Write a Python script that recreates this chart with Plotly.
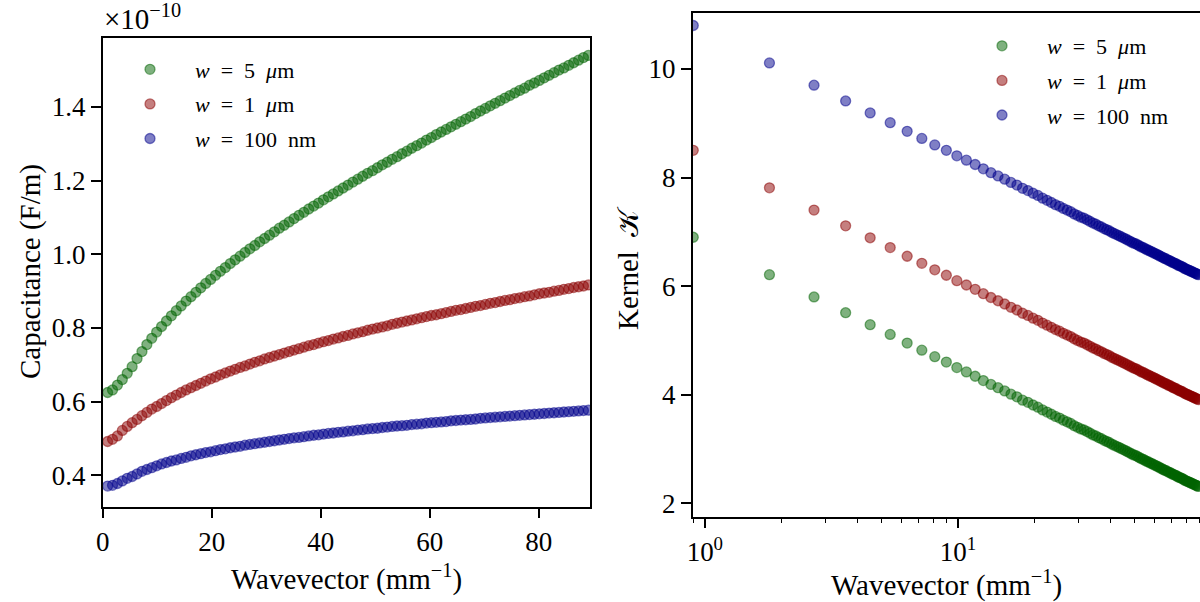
import plotly.graph_objects as go

# ---------------- data ----------------
wavevector = [0.9, 1.8, 2.7, 3.6, 4.5, 5.4, 6.3, 7.2, 8.1, 9.0, 9.9, 10.8, 11.7, 12.6, 13.5, 14.4, 15.3, 16.2, 17.1, 18.0,
              18.9, 19.8, 20.7, 21.6, 22.5, 23.4, 24.3, 25.2, 26.1, 27.0, 27.9, 28.8, 29.7, 30.6, 31.5, 32.4, 33.3, 34.2, 35.1, 36.0,
              36.9, 37.8, 38.7, 39.6, 40.5, 41.4, 42.3, 43.2, 44.1, 45.0, 45.9, 46.8, 47.7, 48.6, 49.5, 50.4, 51.3, 52.2, 53.1, 54.0,
              54.9, 55.8, 56.7, 57.6, 58.5, 59.4, 60.3, 61.2, 62.1, 63.0, 63.9, 64.8, 65.7, 66.6, 67.5, 68.4, 69.3, 70.2, 71.1, 72.0,
              72.9, 73.8, 74.7, 75.6, 76.5, 77.4, 78.3, 79.2, 80.1, 81.0, 81.9, 82.8, 83.7, 84.6, 85.5, 86.4, 87.3, 88.2, 89.1]

# capacitance in units of 1e-10 F/m
cap_5um = [0.625, 0.632, 0.645, 0.660, 0.677, 0.695, 0.717, 0.736, 0.755, 0.772, 0.789, 0.804, 0.819, 0.833, 0.847, 0.860, 0.873, 0.885, 0.897, 0.909,
           0.921, 0.932, 0.943, 0.954, 0.964, 0.975, 0.985, 0.995, 1.005, 1.015, 1.024, 1.034, 1.043, 1.052, 1.061, 1.071, 1.079, 1.088, 1.097, 1.106,
           1.114, 1.123, 1.131, 1.139, 1.148, 1.156, 1.164, 1.172, 1.180, 1.188, 1.196, 1.204, 1.212, 1.220, 1.227, 1.235, 1.243, 1.250, 1.258, 1.265,
           1.273, 1.280, 1.288, 1.295, 1.302, 1.310, 1.317, 1.325, 1.332, 1.339, 1.346, 1.353, 1.360, 1.367, 1.374, 1.382, 1.389, 1.396, 1.403, 1.410,
           1.417, 1.424, 1.431, 1.438, 1.445, 1.451, 1.459, 1.465, 1.472, 1.479, 1.486, 1.493, 1.500, 1.506, 1.513, 1.520, 1.527, 1.534, 1.540]
cap_1um = [0.492, 0.498, 0.507, 0.522, 0.533, 0.543, 0.552, 0.562, 0.571, 0.580, 0.587, 0.595, 0.603, 0.611, 0.618, 0.625, 0.632, 0.638, 0.644, 0.650,
           0.656, 0.662, 0.667, 0.673, 0.678, 0.683, 0.688, 0.693, 0.697, 0.702, 0.707, 0.711, 0.716, 0.720, 0.724, 0.728, 0.732, 0.736, 0.740, 0.744,
           0.748, 0.752, 0.755, 0.759, 0.763, 0.766, 0.770, 0.773, 0.777, 0.780, 0.784, 0.787, 0.790, 0.794, 0.797, 0.800, 0.803, 0.806, 0.810, 0.813,
           0.816, 0.819, 0.822, 0.825, 0.828, 0.831, 0.834, 0.836, 0.839, 0.842, 0.845, 0.848, 0.850, 0.853, 0.856, 0.859, 0.861, 0.864, 0.867, 0.869,
           0.872, 0.875, 0.877, 0.880, 0.882, 0.885, 0.887, 0.890, 0.893, 0.895, 0.897, 0.900, 0.902, 0.905, 0.907, 0.910, 0.912, 0.914, 0.917]
cap_100nm = [0.371, 0.373, 0.378, 0.385, 0.392, 0.397, 0.404, 0.411, 0.416, 0.421, 0.426, 0.431, 0.435, 0.439, 0.442, 0.446, 0.449, 0.453, 0.456, 0.459,
             0.462, 0.464, 0.467, 0.470, 0.472, 0.475, 0.477, 0.479, 0.482, 0.484, 0.486, 0.488, 0.490, 0.492, 0.494, 0.496, 0.498, 0.500, 0.502, 0.503,
             0.505, 0.507, 0.509, 0.510, 0.512, 0.514, 0.515, 0.517, 0.518, 0.520, 0.521, 0.523, 0.524, 0.526, 0.527, 0.528, 0.530, 0.531, 0.533, 0.534,
             0.535, 0.536, 0.538, 0.539, 0.540, 0.542, 0.543, 0.544, 0.545, 0.546, 0.548, 0.549, 0.550, 0.551, 0.552, 0.553, 0.555, 0.556, 0.557, 0.558,
             0.559, 0.560, 0.561, 0.562, 0.563, 0.564, 0.565, 0.566, 0.567, 0.568, 0.569, 0.570, 0.571, 0.572, 0.573, 0.574, 0.575, 0.576, 0.577]

kernel_5um = [6.90, 6.21, 5.80, 5.51, 5.29, 5.11, 4.95, 4.82, 4.70, 4.60, 4.50, 4.42, 4.34, 4.26, 4.19, 4.13, 4.07, 4.01, 3.96, 3.90,
              3.86, 3.81, 3.77, 3.72, 3.68, 3.64, 3.60, 3.57, 3.53, 3.50, 3.47, 3.43, 3.40, 3.37, 3.35, 3.32, 3.29, 3.26, 3.24, 3.21,
              3.19, 3.16, 3.14, 3.12, 3.09, 3.07, 3.05, 3.03, 3.01, 2.99, 2.97, 2.95, 2.93, 2.91, 2.89, 2.88, 2.86, 2.84, 2.82, 2.81,
              2.79, 2.77, 2.76, 2.74, 2.73, 2.71, 2.70, 2.68, 2.67, 2.65, 2.64, 2.62, 2.61, 2.60, 2.58, 2.57, 2.56, 2.54, 2.53, 2.52,
              2.51, 2.49, 2.48, 2.47, 2.46, 2.45, 2.43, 2.42, 2.41, 2.40, 2.39, 2.38, 2.37, 2.36, 2.35, 2.34, 2.33, 2.32, 2.31]
kernel_1um = [8.50, 7.81, 7.40, 7.11, 6.89, 6.71, 6.55, 6.42, 6.30, 6.20, 6.10, 6.02, 5.94, 5.86, 5.79, 5.73, 5.67, 5.61, 5.56, 5.50,
              5.46, 5.41, 5.37, 5.32, 5.28, 5.24, 5.20, 5.17, 5.13, 5.10, 5.07, 5.03, 5.00, 4.97, 4.95, 4.92, 4.89, 4.86, 4.84, 4.81,
              4.79, 4.76, 4.74, 4.72, 4.69, 4.67, 4.65, 4.63, 4.61, 4.59, 4.57, 4.55, 4.53, 4.51, 4.49, 4.48, 4.46, 4.44, 4.42, 4.41,
              4.39, 4.37, 4.36, 4.34, 4.33, 4.31, 4.30, 4.28, 4.27, 4.25, 4.24, 4.22, 4.21, 4.20, 4.18, 4.17, 4.16, 4.14, 4.13, 4.12,
              4.11, 4.09, 4.08, 4.07, 4.06, 4.05, 4.03, 4.02, 4.01, 4.00, 3.99, 3.98, 3.97, 3.96, 3.95, 3.94, 3.93, 3.92, 3.91]
kernel_100nm = [10.80, 10.11, 9.70, 9.41, 9.19, 9.01, 8.85, 8.72, 8.60, 8.50, 8.40, 8.32, 8.24, 8.16, 8.09, 8.03, 7.97, 7.91, 7.86, 7.80,
                7.76, 7.71, 7.67, 7.62, 7.58, 7.54, 7.50, 7.47, 7.43, 7.40, 7.37, 7.33, 7.30, 7.27, 7.25, 7.22, 7.19, 7.16, 7.14, 7.11,
                7.09, 7.06, 7.04, 7.02, 6.99, 6.97, 6.95, 6.93, 6.91, 6.89, 6.87, 6.85, 6.83, 6.81, 6.79, 6.78, 6.76, 6.74, 6.72, 6.71,
                6.69, 6.67, 6.66, 6.64, 6.63, 6.61, 6.60, 6.58, 6.57, 6.55, 6.54, 6.52, 6.51, 6.50, 6.48, 6.47, 6.46, 6.44, 6.43, 6.42,
                6.41, 6.39, 6.38, 6.37, 6.36, 6.35, 6.33, 6.32, 6.31, 6.30, 6.29, 6.28, 6.27, 6.26, 6.25, 6.24, 6.23, 6.22, 6.21]

NB = "\u00a0"
series_names = [
    "<i>w</i>" + NB * 2 + "=" + NB * 2 + "5" + NB * 2 + "<i>μ</i>m",
    "<i>w</i>" + NB * 2 + "=" + NB * 2 + "1" + NB * 2 + "<i>μ</i>m",
    "<i>w</i>" + NB * 2 + "=" + NB * 2 + "100" + NB * 2 + "nm",
]
series_colors = ["rgba(0,100,0,0.5)", "rgba(139,0,0,0.5)", "rgba(0,0,139,0.5)"]
cap_series = [cap_5um, cap_1um, cap_100nm]
kernel_series = [kernel_5um, kernel_1um, kernel_100nm]

left_x_ticks = [0, 20, 40, 60, 80]
left_y_ticks = [0.4, 0.6, 0.8, 1.0, 1.2, 1.4]
right_y_ticks = [2, 4, 6, 8, 10]
right_x_ticks = [1, 10]
right_x_ticktext = ["10<sup>0</sup>", "10<sup>1</sup>"]
right_x_minor = [0.9, 2, 3, 4, 5, 6, 7, 8, 9, 20, 30, 40, 50, 60, 70, 80, 90]

# ---------------- figure ----------------
W, H = 1200, 602
FONT = "Liberation Serif"
fig = go.Figure()

for i in range(3):
    fig.add_trace(go.Scatter(
        x=wavevector, y=cap_series[i], mode="markers", name=series_names[i],
        xaxis="x", yaxis="y", legend="legend", legendgroup="a%d" % i,
        marker=dict(size=10, color=series_colors[i],
                    line=dict(color=series_colors[i], width=1.3)),
    ))
for i in range(3):
    fig.add_trace(go.Scatter(
        x=wavevector, y=kernel_series[i], mode="markers", name=series_names[i],
        xaxis="x2", yaxis="y2", legend="legend2", legendgroup="b%d" % i,
        marker=dict(size=10, color=series_colors[i],
                    line=dict(color=series_colors[i], width=1.3)),
    ))


def px_x(p):
    return p / W


def px_y(p):
    return 1 - p / H


axis_common = dict(showgrid=False, zeroline=False, showline=True, linecolor="black", linewidth=1.5,
                   ticks="outside", ticklen=10, tickwidth=1.5, tickcolor="black", automargin=False,
                   tickfont=dict(family=FONT, size=27, color="black"))

legend_common = dict(xanchor="left", yanchor="top", bgcolor="rgba(0,0,0,0)", borderwidth=0,
                     itemwidth=80, tracegroupgap=3, font=dict(family=FONT, size=22, color="black"))

fig.update_layout(
    width=W, height=H,
    margin=dict(l=0, r=0, t=0, b=0, pad=0, autoexpand=False),
    paper_bgcolor="white", plot_bgcolor="white",
    font=dict(family=FONT, color="black"),
    hovermode=False,
    xaxis=dict(domain=[px_x(102.7), px_x(590)], range=[0, 89.4], tickvals=left_x_ticks,
               mirror=True, anchor="y", **axis_common),
    yaxis=dict(domain=[px_y(506.7), px_y(37.7)], range=[0.315, 1.588], tickvals=left_y_ticks,
               tickformat=".1f", mirror=True, anchor="x", **axis_common),
    xaxis2=dict(domain=[px_x(692.7), 1.0], type="log", range=[-0.048, 1.9565],
                tickvals=right_x_ticks, ticktext=right_x_ticktext, mirror=True, anchor="y2",
                minor=dict(tickvals=right_x_minor, ticks="outside", ticklen=5, tickwidth=1.2,
                           tickcolor="black", showgrid=False),
                **axis_common),
    yaxis2=dict(domain=[px_y(516.7), px_y(13)], range=[1.753, 11.03], tickvals=right_y_ticks,
                anchor="x2", **axis_common),
    legend=dict(x=px_x(105), y=px_y(48.5), **legend_common),
    legend2=dict(x=px_x(957), y=px_y(25), **legend_common),
    showlegend=True,
)

annotations = [
    dict(text="×10<sup>−10</sup>", x=px_x(102), y=px_y(37), xref="paper", yref="paper",
         xanchor="left", yanchor="bottom", showarrow=False, font=dict(family=FONT, size=29)),
    dict(text="Capacitance (F/m)", x=px_x(30), y=px_y(272), xref="paper", yref="paper",
         textangle=-90, xanchor="center", yanchor="middle", showarrow=False, font=dict(family=FONT, size=29)),
    dict(text="Wavevector (mm<sup>−1</sup>)", x=px_x(346), y=px_y(577), xref="paper", yref="paper",
         xanchor="center", yanchor="middle", showarrow=False, font=dict(family=FONT, size=29)),
    dict(text="Kernel " + NB + "𝒦", x=px_x(628), y=px_y(268), xref="paper", yref="paper",
         textangle=-90, xanchor="center", yanchor="middle", showarrow=False, font=dict(family=FONT, size=29)),
    dict(text="Wavevector (mm<sup>−1</sup>)", x=px_x(946), y=px_y(583), xref="paper", yref="paper",
         xanchor="center", yanchor="middle", showarrow=False, font=dict(family=FONT, size=29)),
]
fig.update_layout(annotations=annotations)

fig.write_html("out.html", config={"displayModeBar": False},
               post_script="document.body.style.margin='0';document.body.style.overflow='hidden';")
